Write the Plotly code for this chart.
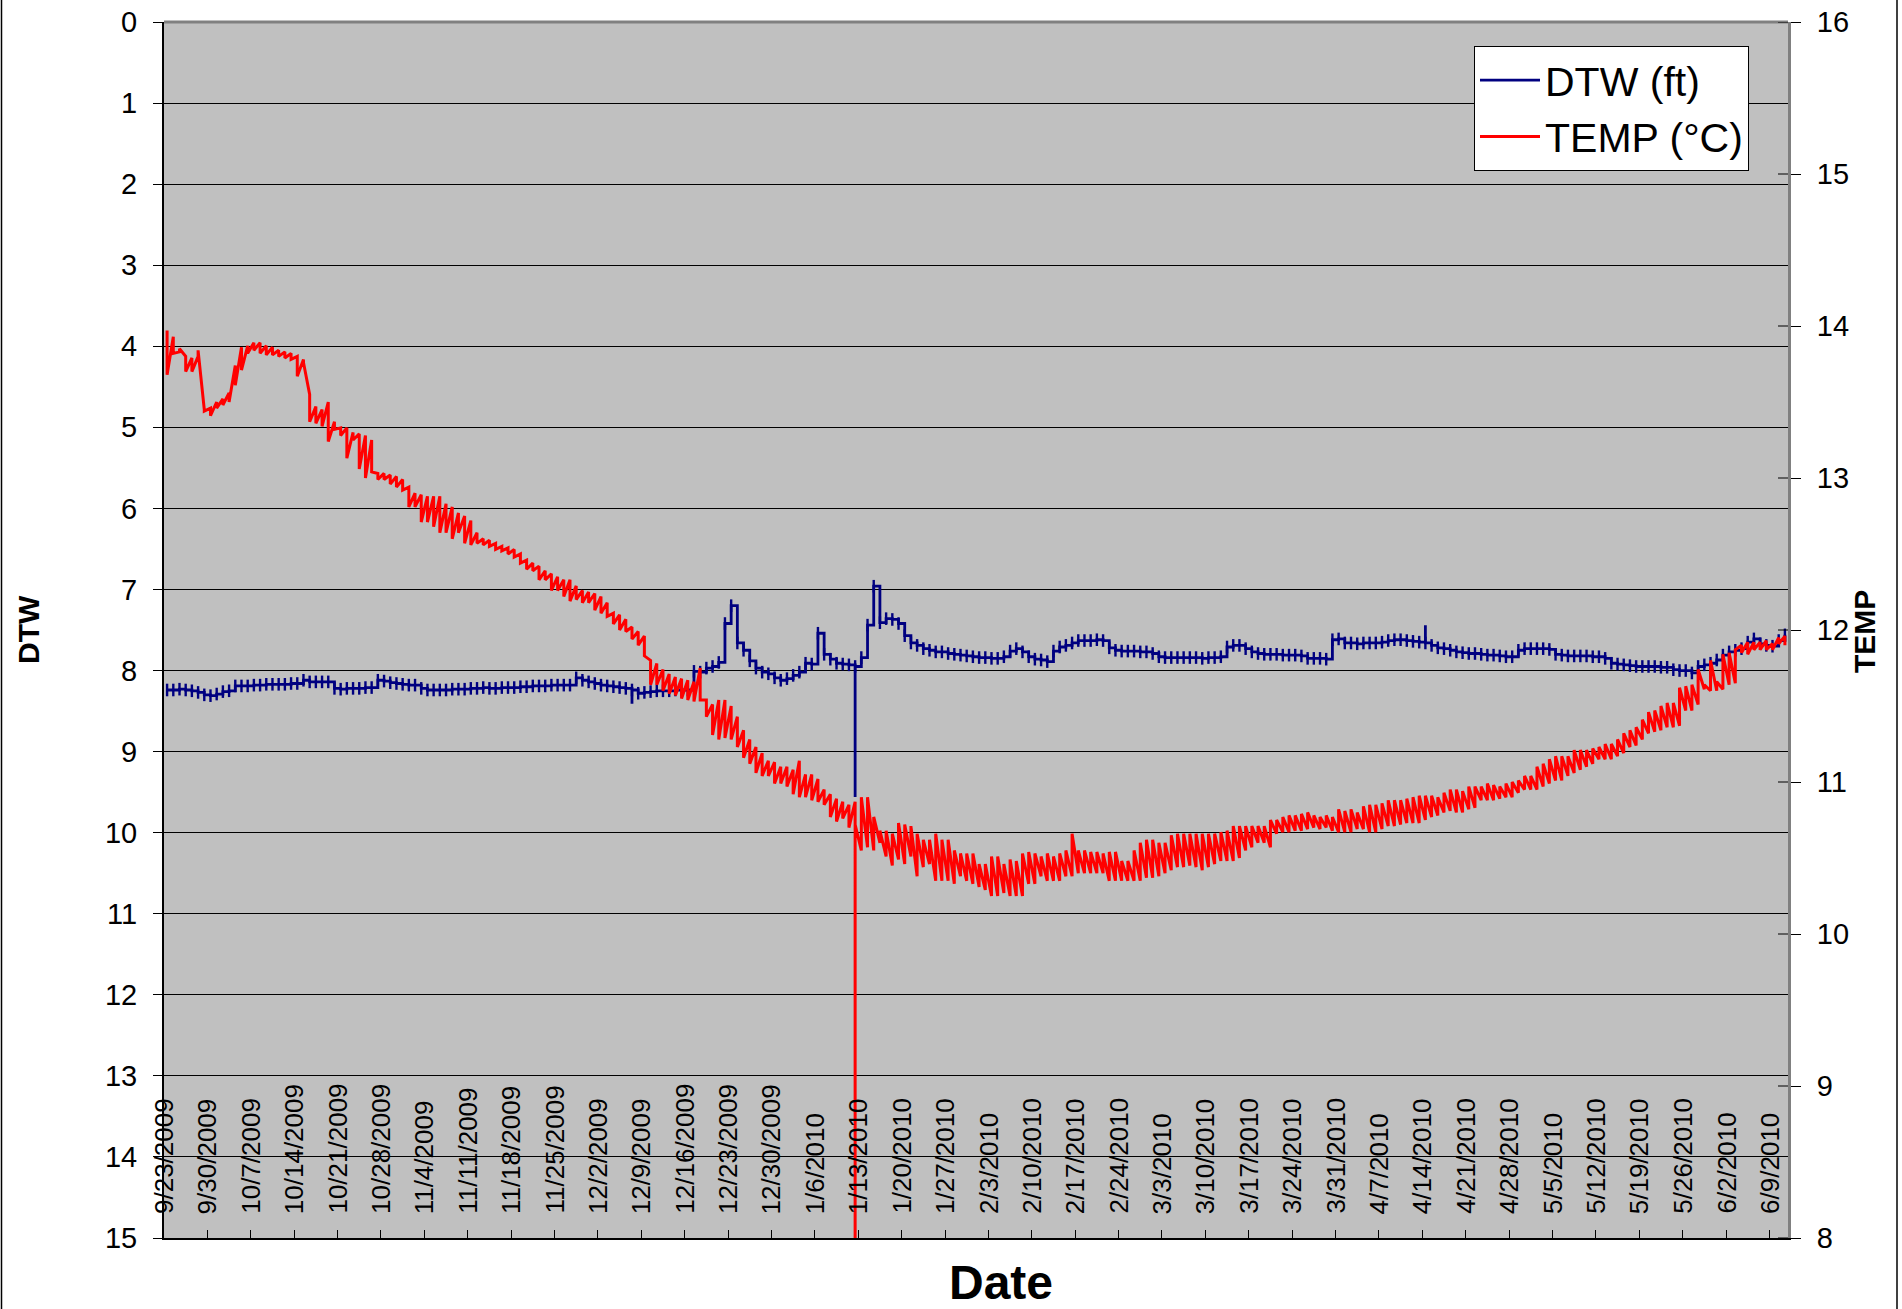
import pandas as pd
import plotly.graph_objects as go

# ---- data: one entry per day, first day 23 Sep 2009 ----
first_day = "2009-09-23 12:00"

# daily temperature: first reading of the day and the day's other extreme (°C)
temp_level = [
    13.97, 13.93, 13.83, 13.80, 13.79, 13.80, 13.45,
    13.46, 13.50, 13.52, 13.56, 13.74, 13.86, 13.87,
    13.89, 13.89, 13.87, 13.86, 13.84, 13.83, 13.82,
    13.80, 13.78, 13.55, 13.47, 13.45, 13.50, 13.37,
    13.33, 13.33, 13.30, 13.29, 13.28, 13.25, 13.03,
    13.03, 13.02, 13.01, 12.99, 12.94, 12.90, 12.89,
    12.88, 12.88, 12.88, 12.83, 12.81, 12.77, 12.75,
    12.72, 12.64, 12.60, 12.59, 12.57, 12.55, 12.54,
    12.53, 12.50, 12.46, 12.44, 12.42, 12.39, 12.37,
    12.35, 12.33, 12.33, 12.29, 12.26, 12.25, 12.24,
    12.22, 12.18, 12.11, 12.10, 12.07, 12.02, 11.99,
    11.96, 11.80, 11.78, 11.74, 11.71, 11.69, 11.68,
    11.67, 11.66, 11.75, 11.54, 11.51, 11.54, 11.54,
    11.50, 11.43, 11.34, 11.28, 11.23, 11.19, 11.14,
    11.13, 11.10, 11.10, 11.08, 11.14, 11.05, 11.05,
    11.02, 10.95, 10.92, 10.89, 10.87, 10.85, 10.87,
    10.55, 10.57, 10.55, 10.60, 10.51, 10.45, 10.49,
    10.46, 10.51, 10.38, 10.44, 10.46, 10.35, 10.35,
    10.35, 10.33, 10.38, 10.35, 10.33, 10.31, 10.29,
    10.25, 10.25, 10.27, 10.25, 10.25, 10.25, 10.33,
    10.33, 10.38, 10.35, 10.35, 10.35, 10.38, 10.38,
    10.40, 10.40, 10.40, 10.40, 10.40, 10.35, 10.35,
    10.35, 10.35, 10.35, 10.35, 10.37, 10.37, 10.38,
    10.40, 10.42, 10.44, 10.44, 10.45, 10.44, 10.42,
    10.44, 10.46, 10.48, 10.48, 10.48, 10.50, 10.55,
    10.57, 10.60, 10.60, 10.57, 10.66, 10.67, 10.67,
    10.68, 10.68, 10.69, 10.70, 10.69, 10.70, 10.68,
    10.67, 10.67, 10.67, 10.69, 10.69, 10.67, 10.67,
    10.69, 10.71, 10.71, 10.72, 10.73, 10.73, 10.73,
    10.75, 10.77, 10.78, 10.80, 10.81, 10.80, 10.80,
    10.82, 10.83, 10.88, 10.88, 10.88, 10.89, 10.90,
    10.90, 10.93, 10.95, 10.95, 10.95, 10.97, 10.99,
    11.01, 11.01, 11.04, 11.06, 11.08, 11.10, 11.12,
    11.15, 11.15, 11.15, 11.17, 11.19, 11.23, 11.24,
    11.28, 11.32, 11.33, 11.34, 11.36, 11.36, 11.37,
    11.47, 11.47, 11.51, 11.61, 11.60, 11.60, 11.61,
    11.64, 11.65, 11.90, 11.92, 11.92, 11.92, 11.93,
    11.91, 11.95, 11.96,
]

temp_spike = [
    13.68, 13.82, 13.85, 13.70, 13.70, 13.84, 13.44,
    13.41, 13.46, 13.48, 13.50, 13.61, 13.71, 13.82,
    13.84, 13.82, 13.81, 13.81, 13.80, 13.79, 13.78,
    13.67, 13.76, 13.37, 13.36, 13.34, 13.24, 13.32,
    13.28, 13.13, 13.25, 13.06, 13.00, 13.04, 12.99,
    12.99, 12.96, 12.94, 12.92, 12.81, 12.81, 12.71,
    12.71, 12.68, 12.64, 12.64, 12.60, 12.64, 12.57,
    12.56, 12.57, 12.56, 12.55, 12.53, 12.52, 12.50,
    12.48, 12.44, 12.40, 12.39, 12.33, 12.33, 12.26,
    12.26, 12.22, 12.19, 12.20, 12.18, 12.18, 12.13,
    12.11, 12.09, 12.04, 12.00, 11.99, 11.94, 11.90,
    11.83, 11.64, 11.64, 11.60, 11.58, 11.57, 11.55,
    11.54, 11.53, 11.54, 11.43, 11.31, 11.28, 11.29,
    11.28, 11.23, 11.16, 11.12, 11.06, 11.04, 11.04,
    10.99, 10.99, 10.97, 10.92, 10.90, 10.90, 10.88,
    10.87, 10.85, 10.77, 10.74, 10.76, 10.70, 10.72,
    10.90, 10.90, 10.77, 10.68, 10.68, 10.66, 10.73,
    10.72, 10.71, 10.66, 10.62, 10.62, 10.66, 10.62,
    10.62, 10.55, 10.53, 10.53, 10.53, 10.46, 10.46,
    10.51, 10.51, 10.46, 10.49, 10.48, 10.53, 10.54,
    10.53, 10.51, 10.53, 10.51, 10.53, 10.55, 10.66,
    10.55, 10.55, 10.54, 10.54, 10.53, 10.54, 10.54,
    10.48, 10.48, 10.55, 10.60, 10.62, 10.62, 10.60,
    10.60, 10.65, 10.66, 10.66, 10.66, 10.66, 10.66,
    10.66, 10.66, 10.67, 10.68, 10.71, 10.71, 10.71,
    10.71, 10.71, 10.71, 10.75, 10.75, 10.77, 10.78,
    10.78, 10.79, 10.80, 10.78, 10.77, 10.78, 10.77,
    10.82, 10.81, 10.82, 10.80, 10.84, 10.85, 10.85,
    10.86, 10.88, 10.88, 10.88, 10.89, 10.90, 10.91,
    10.91, 10.91, 10.90, 10.93, 10.95, 10.95, 10.94,
    10.97, 10.97, 10.97, 10.99, 10.98, 10.97, 10.99,
    11.00, 11.01, 11.04, 11.04, 11.10, 11.12, 11.15,
    11.17, 11.17, 11.17, 11.21, 11.21, 11.21, 11.22,
    11.23, 11.25, 11.25, 11.28, 11.32, 11.34, 11.36,
    11.41, 11.46, 11.47, 11.50, 11.52, 11.52, 11.62,
    11.63, 11.64, 11.74, 11.64, 11.80, 11.66, 11.84,
    11.85, 11.87, 11.85, 11.84, 11.87, 11.87, 11.87,
    11.87, 11.91, 11.90,
]

# short-lived temperature readings on single days (°C)
temp_dips = {
    "2010-01-12": 8.00,
}

# daily depth to water (ft)
dtw_level = [
    8.24, 8.24, 8.23, 8.24, 8.25, 8.27, 8.30,
    8.31, 8.29, 8.26, 8.25, 8.19, 8.19, 8.19,
    8.18, 8.18, 8.17, 8.17, 8.17, 8.17, 8.16,
    8.16, 8.12, 8.14, 8.14, 8.14, 8.14, 8.22,
    8.23, 8.22, 8.22, 8.22, 8.21, 8.21, 8.12,
    8.13, 8.15, 8.16, 8.17, 8.18, 8.18, 8.22,
    8.24, 8.24, 8.24, 8.24, 8.23, 8.23, 8.23,
    8.22, 8.22, 8.21, 8.22, 8.22, 8.21, 8.21,
    8.21, 8.20, 8.20, 8.19, 8.19, 8.19, 8.18,
    8.18, 8.18, 8.18, 8.09, 8.12, 8.14, 8.16,
    8.18, 8.19, 8.20, 8.21, 8.22, 8.24, 8.28,
    8.27, 8.26, 8.25, 8.25, 8.25, 8.24, 8.24,
    8.24, 8.01, 8.02, 7.97, 7.95, 7.90, 7.42,
    7.20, 7.66, 7.75, 7.88, 7.97, 8.02, 8.04,
    8.09, 8.12, 8.10, 8.06, 8.02, 7.91, 7.92,
    7.54, 7.80, 7.86, 7.91, 7.92, 7.93, 7.95,
    7.84, 7.44, 6.96, 7.41, 7.36, 7.37, 7.42,
    7.57, 7.66, 7.69, 7.73, 7.75, 7.77, 7.77,
    7.79, 7.80, 7.81, 7.82, 7.83, 7.84, 7.84,
    7.85, 7.85, 7.83, 7.76, 7.73, 7.77, 7.83,
    7.86, 7.87, 7.89, 7.76, 7.71, 7.69, 7.66,
    7.63, 7.63, 7.63, 7.62, 7.63, 7.72, 7.75,
    7.76, 7.76, 7.76, 7.77, 7.77, 7.79, 7.83,
    7.84, 7.84, 7.84, 7.84, 7.84, 7.84, 7.85,
    7.84, 7.84, 7.83, 7.71, 7.69, 7.69, 7.73,
    7.77, 7.79, 7.80, 7.80, 7.80, 7.81, 7.81,
    7.81, 7.82, 7.85, 7.85, 7.85, 7.86, 7.62,
    7.61, 7.66, 7.66, 7.67, 7.66, 7.66, 7.66,
    7.65, 7.63, 7.62, 7.62, 7.63, 7.64, 7.65,
    7.66, 7.69, 7.72, 7.73, 7.75, 7.77, 7.78,
    7.79, 7.79, 7.80, 7.81, 7.81, 7.82, 7.83,
    7.83, 7.75, 7.73, 7.73, 7.73, 7.73, 7.74,
    7.80, 7.81, 7.82, 7.82, 7.82, 7.82, 7.83,
    7.83, 7.85, 7.91, 7.92, 7.93, 7.94, 7.95,
    7.95, 7.95, 7.95, 7.96, 7.96, 7.99, 8.00,
    8.00, 8.03, 7.95, 7.93, 7.91, 7.87, 7.81,
    7.77, 7.75, 7.73, 7.65, 7.61, 7.67, 7.69,
    7.70, 7.63, 7.56,
]

# short-lived depth readings on single days (ft)
dtw_spikes = {
    "2009-12-07": 8.41,
    "2010-01-12": 9.56,
    "2010-04-14": 7.44,
}

tick_labels = [
    "9/23/2009", "9/30/2009", "10/7/2009", "10/14/2009", "10/21/2009",
    "10/28/2009", "11/4/2009", "11/11/2009", "11/18/2009", "11/25/2009",
    "12/2/2009", "12/9/2009", "12/16/2009", "12/23/2009", "12/30/2009",
    "1/6/2010", "1/13/2010", "1/20/2010", "1/27/2010", "2/3/2010",
    "2/10/2010", "2/17/2010", "2/24/2010", "3/3/2010", "3/10/2010",
    "3/17/2010", "3/24/2010", "3/31/2010", "4/7/2010", "4/14/2010",
    "4/21/2010", "4/28/2010", "5/5/2010", "5/12/2010", "5/19/2010",
    "5/26/2010", "6/2/2010", "6/9/2010",
]

# ---- build the plotted points ----
days = pd.date_range(first_day, periods=len(temp_level), freq="D")

# each day is a vertical run between its two readings, joined to the next day
temp_x, temp_y = [], []
for d, lvl, spk in zip(days, temp_level, temp_spike):
    key = d.strftime("%Y-%m-%d")
    temp_x.append(d)
    temp_y.append(lvl)
    if key in temp_dips:
        temp_x += [d, d]
        temp_y += [temp_dips[key], lvl]
    temp_x.append(d)
    temp_y.append(spk)

dtw_x, dtw_y = [], []
for d, lvl in zip(days, dtw_level):
    dtw_x.append(d)
    dtw_y.append(lvl)
    key = d.strftime("%Y-%m-%d")
    if key in dtw_spikes:
        dtw_x += [d, d]
        dtw_y += [dtw_spikes[key], lvl]

tick_dates = pd.to_datetime(tick_labels, format="%m/%d/%Y")

FONT = "Liberation Sans, Arial, sans-serif"
NAVY = "#000080"
RED = "#FF0000"

fig = go.Figure()
fig.add_trace(go.Scatter(
    x=dtw_x, y=dtw_y, mode="lines", name="DTW (ft)",
    line=dict(color=NAVY, width=2.8, shape="hv", simplify=False), yaxis="y",
    legendgroup="a",
))
fig.add_trace(go.Scatter(
    x=list(days), y=dtw_level, mode="markers", showlegend=False,
    marker=dict(symbol="line-ns", size=9, line=dict(color=NAVY, width=2.4)),
    yaxis="y", hoverinfo="skip",
))
fig.add_trace(go.Scatter(
    x=temp_x, y=temp_y, mode="lines", name="TEMP (°C)",
    line=dict(color=RED, width=3, simplify=False), yaxis="y2", legendgroup="b",
))

# plot-area geometry (pixels)
W, H = 1902, 1309
ML, MR, MT, MB = 164, 114, 22, 71
PW, PH = W - ML - MR, H - MT - MB


def px_x(p):
    return (p - ML) / PW


def px_y(p):
    return 1 - (p - MT) / PH


annotations = []
for td, lab in zip(tick_dates, tick_labels):
    annotations.append(dict(
        x=td, xref="x", y=px_y(1216), yref="paper",
        text=lab, showarrow=False, textangle=-90,
        xanchor="center", yanchor="bottom",
        font=dict(family=FONT, size=26, color="black"),
    ))
annotations += [
    dict(x=px_x(28), y=0.5, xref="paper", yref="paper", text="<b>DTW</b>",
         showarrow=False, textangle=-90, xanchor="center", yanchor="middle",
         font=dict(family=FONT, size=30, color="black")),
    dict(x=px_x(1864), y=px_y(632), xref="paper", yref="paper", text="<b>TEMP</b>",
         showarrow=False, textangle=-90, xanchor="center", yanchor="middle",
         font=dict(family=FONT, size=30, color="black")),
    dict(x=px_x(1001), y=px_y(1282), xref="paper", yref="paper", text="<b>Date</b>",
         showarrow=False, xanchor="center", yanchor="middle",
         font=dict(family=FONT, size=48, color="black")),
]

shapes = [
    # plot area frame
    dict(type="line", xref="paper", yref="paper", x0=0, x1=1, y0=1, y1=1,
         line=dict(color="#808080", width=3)),
    # outer chart frame
    dict(type="line", xref="paper", yref="paper", x0=px_x(1.5), x1=px_x(1.5),
         y0=px_y(-5), y1=px_y(1315), line=dict(color="#000000", width=1.5)),
    dict(type="line", xref="paper", yref="paper", x0=px_x(1897), x1=px_x(1897),
         y0=px_y(-5), y1=px_y(1315), line=dict(color="#000000", width=1.5)),
]
# inner halves of the crossing ticks on the temperature axis
for v in range(8, 17):
    shapes.append(dict(type="line", xref="paper", yref="y2",
                       x0=1 - 10 / PW, x1=1, y0=v, y1=v,
                       line=dict(color="black", width=1)))

fig.update_layout(
    width=W, height=H,
    margin=dict(l=ML, r=MR, t=MT, b=MB, autoexpand=False),
    paper_bgcolor="white", plot_bgcolor="#C0C0C0",
    font=dict(family=FONT, color="black"),
    showlegend=True,
    legend=dict(
        x=px_x(1474), y=px_y(46), xanchor="left", yanchor="top",
        bgcolor="white", bordercolor="black", borderwidth=1,
        font=dict(family=FONT, size=41, color="black"),
        itemwidth=60, tracegroupgap=0,
    ),
    xaxis=dict(
        type="date", range=["2009-09-23", "2010-06-12"],
        tickvals=list(tick_dates), showticklabels=False,
        ticks="inside", ticklen=8, tickwidth=1, tickcolor="black",
        showgrid=False, zeroline=False,
        showline=True, linecolor="black", linewidth=2,
    ),
    yaxis=dict(
        range=[15, 0], tick0=0, dtick=1,
        ticks="outside", ticklen=9, tickwidth=1, tickcolor="black",
        tickfont=dict(family=FONT, size=29, color="black"),
        ticklabelstandoff=10,
        showgrid=True, gridcolor="#000000", gridwidth=1,
        zeroline=False, showline=True, linecolor="black", linewidth=2,
    ),
    yaxis2=dict(
        overlaying="y", side="right", range=[8, 16], tick0=8, dtick=1,
        ticks="outside", ticklen=10, tickwidth=1, tickcolor="black",
        tickfont=dict(family=FONT, size=29, color="black"),
        ticklabelstandoff=10,
        showgrid=False, zeroline=False,
        showline=True, linecolor="#808080", linewidth=3,
    ),
    annotations=annotations,
    shapes=shapes,
)

fig.write_html("out.html")
